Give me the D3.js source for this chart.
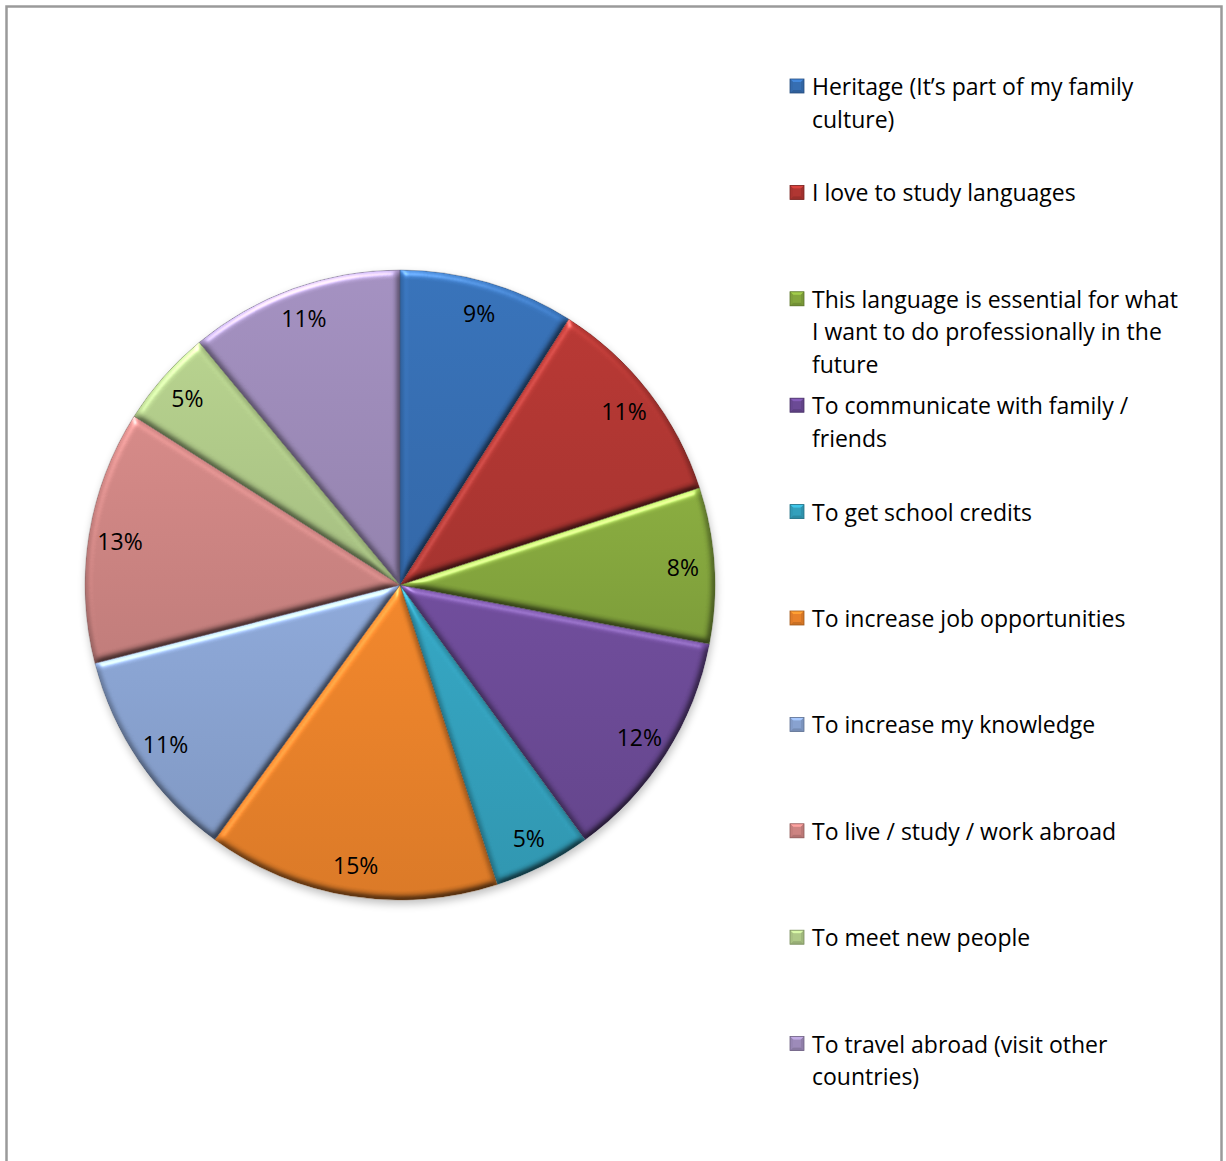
<!DOCTYPE html>
<html>
<head>
<meta charset="utf-8">
<script src="https://cdn.jsdelivr.net/npm/d3@7"></script>
<style>
  html, body { margin: 0; padding: 0; background: #ffffff; overflow: hidden; }
  text { font-family: "Open Sans", "Lato", sans-serif; fill: #000; }
</style>
</head>
<body>
<svg id="chart" width="1226" height="1161"></svg>
<script>
// Reasons for studying a language (share of responses, %)
// "\n" marks where a legend entry wraps onto its next line
const categories = [
  "Heritage (It\u2019s part of my family\nculture)",
  "I love to study languages",
  "This language is essential for what\nI want to do professionally in the\nfuture",
  "To communicate with family /\nfriends",
  "To get school credits",
  "To increase job opportunities",
  "To increase my knowledge",
  "To live / study / work abroad",
  "To meet new people",
  "To travel abroad (visit other\ncountries)"
];
const percents = [9, 11, 8, 12, 5, 15, 11, 13, 5, 11];
const sliceColors = [
  "#366eb2", "#b03632", "#84a63d", "#6b4a95", "#33a0bc",
  "#e8812a", "#88a2d0", "#cd8482", "#afc988", "#9d8bb9"
];

const svg = d3.select("#chart");
const H = 1161;
const cx = 400, cy = 585, R = 315;
const fontPx = "23px";

// chart frame
svg.append("rect")
  .attr("x", 6.5).attr("y", 6.5)
  .attr("width", 1215).attr("height", H + 20)
  .attr("fill", "#fff")
  .attr("stroke", "#9a9a9a").attr("stroke-width", 2.5);

const defs = svg.append("defs");

// soft-round bevel: lighting computed from the blurred outline of each slice
const bevel = defs.append("filter").attr("id", "bevel")
  .attr("x", "-5%").attr("y", "-5%").attr("width", "110%").attr("height", "110%")
  .attr("color-interpolation-filters", "sRGB");
bevel.append("feGaussianBlur").attr("in", "SourceAlpha").attr("stdDeviation", 3.5).attr("result", "blur");
const diff = bevel.append("feDiffuseLighting")
  .attr("in", "blur").attr("surfaceScale", 4).attr("diffuseConstant", 1)
  .attr("lighting-color", "#ffffff").attr("result", "diff");
diff.append("feDistantLight").attr("azimuth", 250).attr("elevation", 60);
bevel.append("feComposite").attr("in", "SourceGraphic").attr("in2", "diff")
  .attr("operator", "arithmetic").attr("k1", 1.155).attr("k2", 0).attr("k3", 0).attr("k4", 0)
  .attr("result", "lit");
const spec = bevel.append("feSpecularLighting")
  .attr("in", "blur").attr("surfaceScale", 4).attr("specularConstant", 0.7)
  .attr("specularExponent", 30).attr("lighting-color", "#ffffff").attr("result", "spec");
spec.append("feDistantLight").attr("azimuth", 250).attr("elevation", 30);
bevel.append("feComposite").attr("in", "spec").attr("in2", "SourceAlpha")
  .attr("operator", "in").attr("result", "specIn");
bevel.append("feComposite").attr("in", "lit").attr("in2", "specIn")
  .attr("operator", "arithmetic").attr("k2", 1).attr("k3", 0.45).attr("result", "sum");
bevel.append("feComposite").attr("in", "sum").attr("in2", "SourceAlpha").attr("operator", "in");

// drop shadow under the pie
const shadow = defs.append("filter").attr("id", "shadow")
  .attr("x", "-20%").attr("y", "-20%").attr("width", "140%").attr("height", "140%");
shadow.append("feGaussianBlur").attr("stdDeviation", 4);

// light-to-dark shading down each slice
sliceColors.forEach((c, i) => {
  const g = defs.append("linearGradient").attr("id", "grad" + i)
    .attr("x1", 0).attr("y1", 0).attr("x2", 0).attr("y2", 1);
  g.append("stop").attr("offset", "0%").attr("stop-color", d3.color(c).brighter(0.12));
  g.append("stop").attr("offset", "100%").attr("stop-color", d3.color(c).darker(0.18));
});

const pie = d3.pie().sort(null).value(d => d);
const arcs = pie(percents);
const arc = d3.arc().innerRadius(0).outerRadius(R);
const labelArc = d3.arc().innerRadius(R * 0.9).outerRadius(R * 0.9);

const g = svg.append("g").attr("transform", `translate(${cx},${cy})`);

g.append("circle").attr("cx", 1).attr("cy", 4).attr("r", R)
  .attr("fill", "#000").attr("opacity", 0.25).attr("filter", "url(#shadow)");

g.selectAll("path.slice")
  .data(arcs)
  .join("path")
  .attr("class", "slice")
  .attr("d", arc)
  .attr("fill", (d, i) => `url(#grad${i})`)
  .attr("filter", "url(#bevel)");

g.selectAll("path.edge")
  .data(arcs)
  .join("path")
  .attr("class", "edge")
  .attr("d", arc)
  .attr("fill", "none")
  .attr("stroke", (d, i) => d3.color(sliceColors[i]).darker(1.5))
  .attr("stroke-opacity", 0.4)
  .attr("stroke-width", 0.8);

g.selectAll("text.pct")
  .data(arcs)
  .join("text")
  .attr("class", "pct")
  .attr("transform", d => `translate(${labelArc.centroid(d)})`)
  .attr("text-anchor", "middle")
  .attr("dominant-baseline", "central")
  .style("font-size", fontPx)
  .text(d => d.data + "%");

// legend
const legendX = 790, textX = 812, legendTop = 86, legendStep = 106.4, lineH = 32.5;
const lg = svg.append("g");

categories.forEach((name, i) => {
  const y = legendTop + i * legendStep;
  const col = d3.color(sliceColors[i]);
  const s = 14;
  const m = lg.append("g").attr("transform", `translate(${legendX},${y - 7})`);
  m.append("rect").attr("width", s).attr("height", s).attr("fill", col);
  m.append("polygon").attr("points", `0,0 ${s},0 ${s/2},${s/2}`).attr("fill", col.brighter(0.6));
  m.append("polygon").attr("points", `0,${s} ${s},${s} ${s/2},${s/2}`).attr("fill", col.darker(0.4));
  m.append("polygon").attr("points", `0,0 0,${s} ${s/2},${s/2}`).attr("fill", col.darker(0.1));
  m.append("polygon").attr("points", `${s},0 ${s},${s} ${s/2},${s/2}`).attr("fill", col.darker(0.25));
  m.append("rect").attr("x", 3).attr("y", 3).attr("width", s - 6).attr("height", s - 6).attr("fill", col);
  m.append("rect").attr("width", s).attr("height", s).attr("fill", "none")
    .attr("stroke", col.darker(1)).attr("stroke-width", 0.8);

  const t = lg.append("text").attr("x", textX).attr("y", y)
    .attr("dominant-baseline", "central").style("font-size", fontPx);
  name.split("\n").forEach((ln, j) => {
    t.append("tspan").attr("x", textX).attr("y", y + j * lineH).text(ln);
  });
});
</script>
</body>
</html>
